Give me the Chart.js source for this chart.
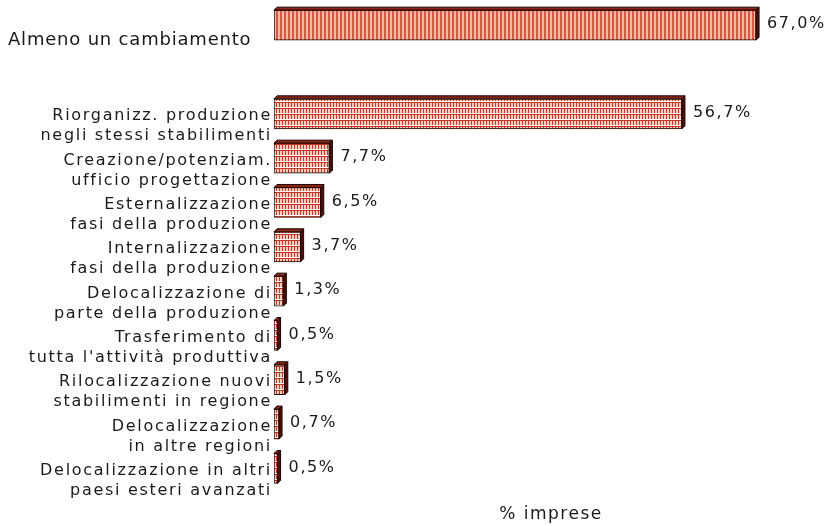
<!DOCTYPE html>
<html>
<head>
<meta charset="utf-8">
<script src="https://cdn.jsdelivr.net/npm/chart.js@4"></script>
<style>
html, body { margin:0; padding:0; background:#fff; }
</style>
</head>
<body>
<canvas id="cv" width="830" height="526"></canvas>
<script>
// categories (each entry = label lines), one empty slot after the first bar
let categories = [
    ['Almeno un cambiamento'],
    [],
    ['Riorganizz. produzione', 'negli stessi stabilimenti'],
    ['Creazione/potenziam.', 'ufficio progettazione'],
    ['Esternalizzazione', 'fasi della produzione'],
    ['Internalizzazione', 'fasi della produzione'],
    ['Delocalizzazione di', 'parte della produzione'],
    ['Trasferimento di', "tutta l'attività produttiva"],
    ['Rilocalizzazione nuovi', 'stabilimenti in regione'],
    ['Delocalizzazione', 'in altre regioni'],
    ['Delocalizzazione in altri', 'paesi esteri avanzati']
];
let shares = [67.0, null, 56.7, 7.7, 6.5, 3.7, 1.3, 0.5, 1.5, 0.7, 0.5];
let axisTitle = '% imprese';

const canvas = document.getElementById('cv');
const ctx = canvas.getContext('2d');

function makeStripes() {
    const c = document.createElement('canvas');
    c.width = 4; c.height = 4;
    const g = c.getContext('2d');
    g.fillStyle = '#f4b8a8';
    g.fillRect(0, 0, 4, 4);
    g.fillStyle = '#d65a44';
    g.fillRect(0, 0, 2, 4);
    return ctx.createPattern(c, 'repeat');
}

function makeBricks() {
    const c = document.createElement('canvas');
    c.width = 3; c.height = 6;
    const g = c.getContext('2d');
    g.fillStyle = '#ffffff';
    g.fillRect(0, 0, 3, 6);
    g.fillStyle = '#f6cfc4';
    g.fillRect(1, 1, 2, 4);
    g.fillStyle = '#c8361f';
    g.fillRect(0, 0, 3, 1);
    g.fillRect(0, 1, 1, 4);
    return ctx.createPattern(c, 'repeat');
}

const stripes = makeStripes();
const bricks = makeBricks();
const depth = 3;

const fmt = v => v.toFixed(1).replace('.', ',') + '%';

const spacingPlugin = {
    id: 'spacing',
    beforeDraw(chart) {
        chart.ctx.letterSpacing = '1.5px';
    }
};

const depthPlugin = {
    id: 'depth',
    afterDatasetsDraw(chart) {
        const c = chart.ctx;
        const meta = chart.getDatasetMeta(0);
        meta.data.forEach((bar, i) => {
            if (shares[i] == null) return;
            const p = bar.getProps(['x', 'y', 'base', 'height'], true);
            const x0 = p.base, x1 = p.x;
            const y0 = p.y - p.height / 2, y1 = p.y + p.height / 2;
            c.save();
            c.lineWidth = 1;
            c.strokeStyle = '#1a0500';
            c.fillStyle = '#8c2414';
            c.beginPath();
            c.moveTo(x0, y0); c.lineTo(x0 + depth, y0 - depth);
            c.lineTo(x1 + depth, y0 - depth); c.lineTo(x1, y0);
            c.closePath(); c.fill(); c.stroke();
            c.fillStyle = '#4d0f07';
            c.beginPath();
            c.moveTo(x1, y0); c.lineTo(x1 + depth, y0 - depth);
            c.lineTo(x1 + depth, y1 - depth); c.lineTo(x1, y1);
            c.closePath(); c.fill(); c.stroke();
            c.restore();
        });
    }
};

const textPlugin = {
    id: 'texts',
    afterDraw(chart) {
        const c = chart.ctx;
        const yScale = chart.scales.y;
        const meta = chart.getDatasetMeta(0);
        c.save();
        c.fillStyle = '#1a1a1a';
        categories.forEach((lines, i) => {
            if (!lines.length) return;
            const cy = yScale.getPixelForValue(i);
            if (i === 0) {
                c.font = '18px "DejaVu Sans"';
                c.letterSpacing = '0.8px';
                c.textAlign = 'left';
                c.textBaseline = 'alphabetic';
                c.fillText(lines[0], 8, cy + 19.5);
            } else {
                c.font = '16px "DejaVu Sans"';
                c.letterSpacing = '1.7px';
                c.textAlign = 'right';
                c.textBaseline = 'alphabetic';
                c.fillText(lines[0], 272, cy + 6.5);
                c.fillText(lines[1], 272, cy + 26.5);
            }
        });
        // value labels
        c.font = '16px "DejaVu Sans"';
        c.letterSpacing = '1.6px';
        c.textAlign = 'left';
        c.textBaseline = 'middle';
        meta.data.forEach((bar, i) => {
            if (shares[i] == null) return;
            const p = bar.getProps(['x', 'y'], true);
            c.fillText(fmt(shares[i]), p.x + 11, p.y - 1);
        });
        c.restore();
    }
};

const myChart = new Chart(ctx, {
    type: 'bar',
    data: {
        labels: categories.map(l => l.join(' ')),
        datasets: [{
            label: axisTitle,
            data: shares,
            backgroundColor: shares.map((v, i) => i === 0 ? stripes : bricks),
            borderColor: '#1a0500',
            borderWidth: 1,
            borderSkipped: false,
            barThickness: 30
        }]
    },
    options: {
        indexAxis: 'y',
        responsive: false,
        animation: false,
        devicePixelRatio: 1,
        layout: {
            padding: { left: 274, right: 2, top: 3, bottom: 0 }
        },
        scales: {
            x: {
                min: 0,
                max: 77,
                grid: { display: false, drawTicks: false },
                border: { display: false },
                ticks: { display: false },
                title: {
                    display: true,
                    text: axisTitle,
                    color: '#1a1a1a',
                    font: { family: 'DejaVu Sans', size: 17 },
                    padding: { top: 14, bottom: 1 }
                }
            },
            y: {
                display: false
            }
        },
        plugins: {
            legend: { display: false },
            tooltip: { enabled: false }
        }
    },
    plugins: [spacingPlugin, depthPlugin, textPlugin]
});
</script>
</body>
</html>
